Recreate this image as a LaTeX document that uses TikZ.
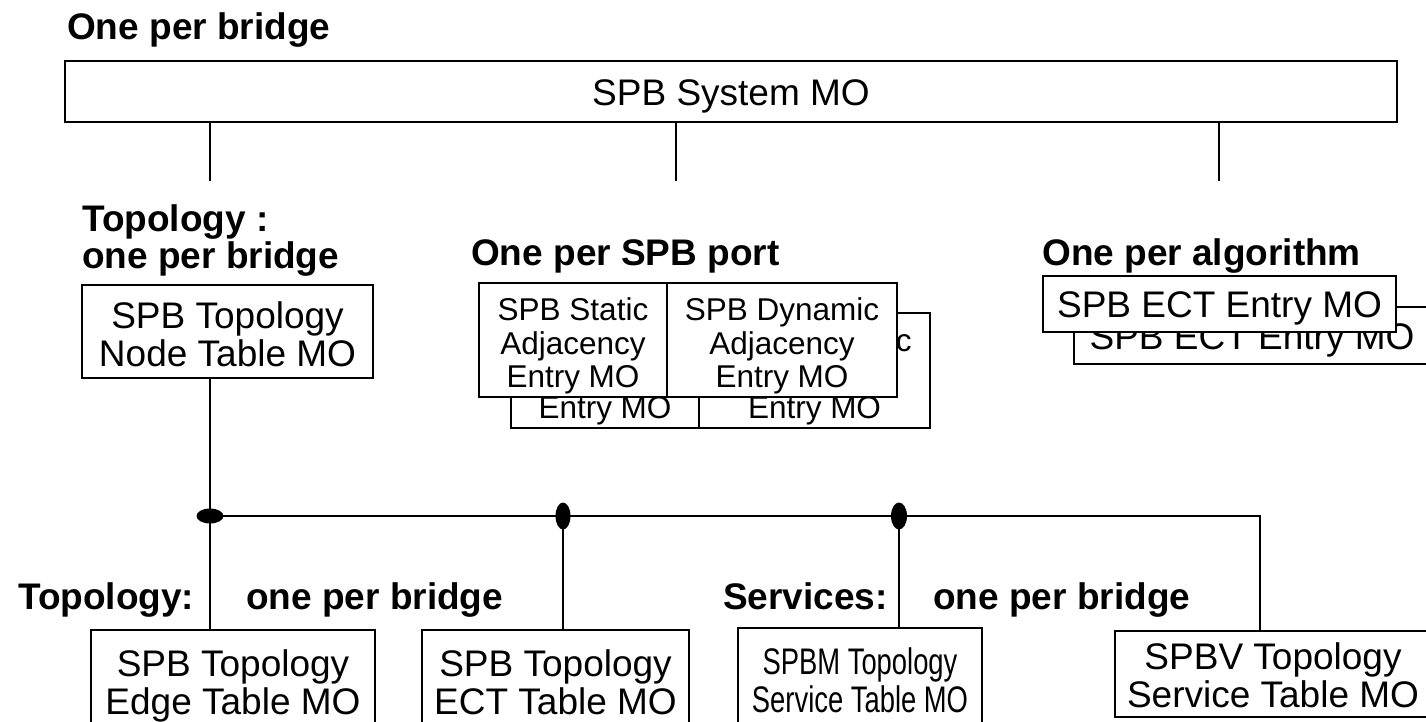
\documentclass[tikz,border=0pt]{standalone}
\usepackage{fontspec}
\setmainfont{Liberation Sans}
\newfontfamily\condfont{Liberation Sans}[FakeStretch=0.74]
\usetikzlibrary{shapes.geometric}
\newcommand\pushdn[1]{\rule{0pt}{#1pt}}
\begin{document}
\begin{tikzpicture}[x=1pt,y=-1pt,
  box/.style={draw, line width=2pt, fill=white, inner sep=0pt, align=center,
              font=\fontsize{37}{38}\selectfont},
  smallbox/.style={box, font=\fontsize{31.5}{33.5}\selectfont},
  lbl/.style={inner sep=0pt, anchor=base west, font=\fontsize{37}{37}\selectfont\bfseries},
  conn/.style={line width=1.3pt},
  bus/.style={line width=2pt},
  dot/.style={ellipse, fill=black, draw=none, inner sep=0pt}]
\useasboundingbox (0,0) rectangle (1426,721);

% top
\node[lbl] (l1) at (67,39) {One per bridge};
\node[box, minimum width=1332, minimum height=61] (sys) at (731,91.5) {\pushdn{35}SPB System MO};
\coordinate (t1) at (210,181);
\coordinate (t2) at (676,181);
\coordinate (t3) at (1219,181);
\draw[conn] (sys.south -| t1) -- (t1);
\draw[conn] (sys.south -| t2) -- (t2);
\draw[conn] (sys.south -| t3) -- (t3);

% middle labels
\node[lbl] (l2) at (82,231) {Topology :};
\node[lbl] (l3) at (82,268) {one per bridge};
\node[lbl] (l4) at (471,265) {One per SPB port};
\node[lbl] (l5) at (1042,265) {One per algorithm};

% node table
\node[box, minimum width=291, minimum height=93] (ntab) at (227.5,331.5) {\pushdn{32}SPB Topology\\Node Table MO};

% adjacency stacks
\node[smallbox, minimum width=188, minimum height=115] (sab) at (605,370.5) {\pushdn{35}SPB Static\\Adjacency\\Entry MO};
\node[smallbox, minimum width=231, minimum height=115] (dab) at (814.5,370.5) {\pushdn{35}SPB Dynamic\\Adjacency\\Entry MO};
\node[smallbox, minimum width=188, minimum height=114] (saf) at (573,340) {\pushdn{35}SPB Static\\Adjacency\\Entry MO};
\node[smallbox, minimum width=230, minimum height=114] (daf) at (782,340) {\pushdn{35}SPB Dynamic\\Adjacency\\Entry MO};

% ECT entry stack
\node[box, minimum width=356, minimum height=57] (ectb) at (1252,335.5) {\pushdn{35}SPB ECT Entry MO};
\node[box, minimum width=353, minimum height=56] (ectf) at (1219.5,304) {\pushdn{35}SPB ECT Entry MO};

% bottom labels
\node[lbl] (l6) at (18,609) {Topology:};
\node[lbl] (l7) at (246,609) {one per bridge};
\node[lbl] (l8) at (723,609) {Services:};
\node[lbl] (l9) at (933,609) {one per bridge};

% bottom boxes
\node[box, minimum width=284, minimum height=104] (edge) at (233,682) {\pushdn{35}SPB Topology\\Edge Table MO};
\node[box, minimum width=267, minimum height=96] (ecttab) at (555.5,678) {\pushdn{35}SPB Topology\\ECT Table MO};
\node[box, minimum width=244, minimum height=100, font=\fontsize{37}{38}\condfont] (spbm) at (860,678) {\pushdn{32}SPBM Topology\\Service Table MO};
\node[box, minimum width=316, minimum height=86] (spbv) at (1273,674) {\pushdn{29}SPBV Topology\\Service Table MO};

% bus
\coordinate (j1) at (210,516);
\coordinate (j2) at (563,516);
\coordinate (j3) at (899,516);
\coordinate (j4) at (1260,516);
\draw[conn] (ntab.south -| j1) -- (edge.north -| j1);
\draw[bus] (j1) -- ([xshift=0.65pt]j4);
\draw[conn] (j4) -- (spbv.north -| j4);
\draw[conn] (j2) -- (ecttab.north -| j2);
\draw[conn] (j3) -- (spbm.north -| j3);
\node[dot, minimum width=27, minimum height=15] (d1) at (j1) {};
\node[dot, minimum width=15, minimum height=27] (d2) at (j2) {};
\node[dot, minimum width=16, minimum height=27] (d3) at (j3) {};
\end{tikzpicture}
\end{document}
